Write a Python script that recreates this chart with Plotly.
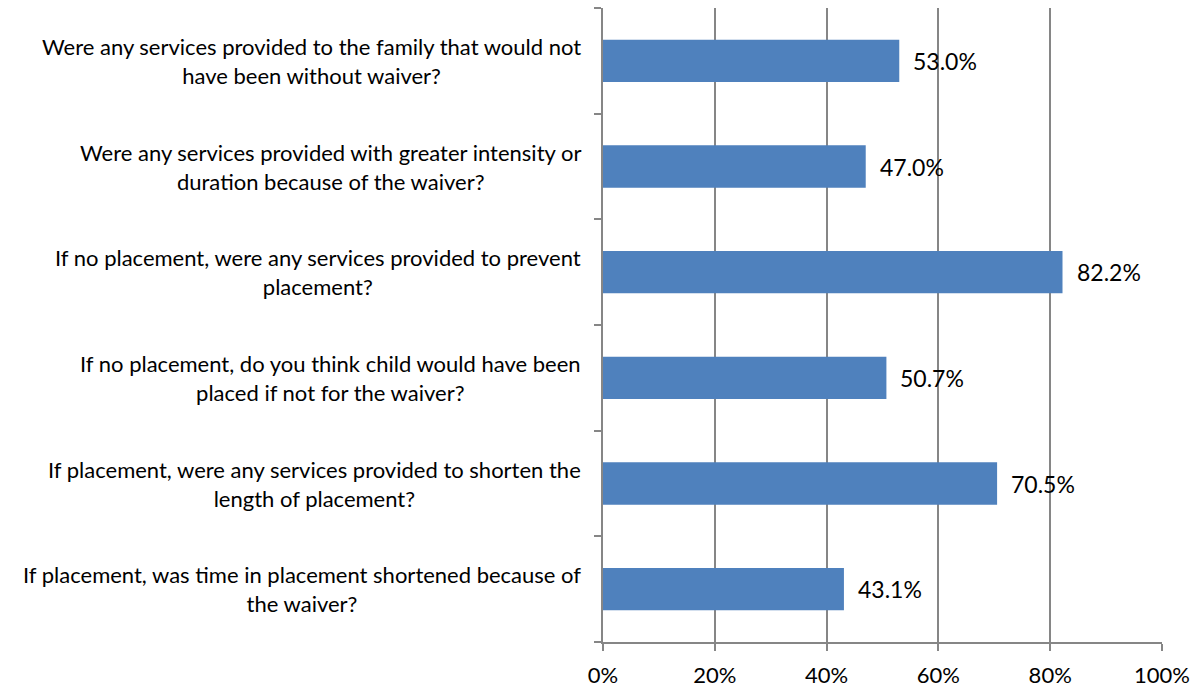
import plotly.graph_objects as go

questions = [
    "Were any services provided to the family that would not<br>have been without waiver?",
    "Were any services provided with greater intensity or<br>duration because of the waiver?",
    "If no placement, were any services provided to prevent<br>placement?",
    "If no placement, do you think child would have been<br>placed if not for the waiver?",
    "If placement, were any services provided to shorten the<br>length of placement?",
    "If placement, was time in placement shortened because of<br>the waiver?",
]
shares = [53.0, 47.0, 82.2, 50.7, 70.5, 43.1]
x_ticks = [0, 20, 40, 60, 80, 100]
x_tick_labels = ["0%", "20%", "40%", "60%", "80%", "100%"]

FONT = "Lato, Open Sans, sans-serif"
GRID = "#868686"

fig = go.Figure(
    go.Bar(
        x=shares,
        y=list(range(len(questions))),
        orientation="h",
        marker=dict(color="#4F81BD", line=dict(width=0)),
        width=0.4,
        hoverinfo="skip",
    )
)

# value labels just past each bar end
for i, v in enumerate(shares):
    fig.add_annotation(
        x=v, y=i, xref="x", yref="y",
        text=f"{v:.1f}%", showarrow=False,
        xanchor="left", xshift=12,
        font=dict(family=FONT, size=23, color="#000000"),
    )

# category labels, centred lines, right edge near the axis
for i, q in enumerate(questions):
    fig.add_annotation(
        x=0, y=i, xref="paper", yref="y",
        text=q, showarrow=False,
        xanchor="right", xshift=-20, align="center",
        font=dict(family=FONT, size=22, color="#000000"),
    )

fig.update_layout(
    width=1202, height=688,
    margin=dict(l=603, r=40, t=8, b=46),
    paper_bgcolor="white", plot_bgcolor="white",
    showlegend=False,
    font=dict(family=FONT, color="#000000"),
)
fig.update_xaxes(
    range=[0, 100],
    tickvals=x_ticks, ticktext=x_tick_labels,
    tickfont=dict(family=FONT, size=22, color="#000000"),
    ticklabelstandoff=6,
    automargin=False,
    showgrid=True, gridcolor=GRID, gridwidth=1.6,
    showline=True, linecolor=GRID, linewidth=2,
    ticks="outside", ticklen=7, tickcolor=GRID, tickwidth=2,
    zeroline=False,
)
fig.update_yaxes(
    range=[len(questions) - 0.5, -0.5],
    tickvals=[i - 0.5 for i in range(len(questions) + 1)],
    showticklabels=False,
    automargin=False,
    showgrid=False,
    showline=True, linecolor=GRID, linewidth=2,
    ticks="outside", ticklen=7, tickcolor=GRID, tickwidth=2,
    zeroline=False,
)

fig.write_html("out.html")
